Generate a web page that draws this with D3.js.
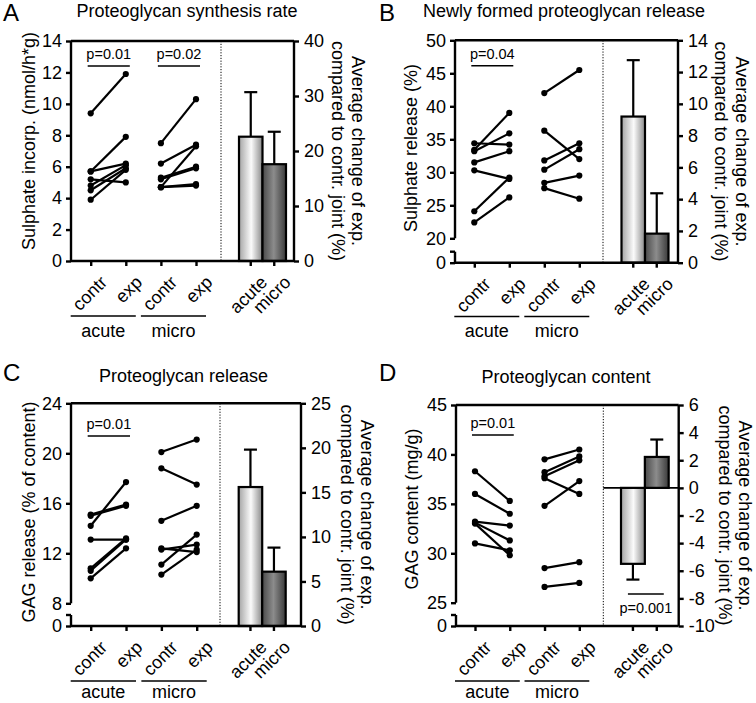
<!DOCTYPE html>
<html><head><meta charset="utf-8">
<script src="https://cdn.jsdelivr.net/npm/d3@7"></script>
<style>
body{margin:0;background:#fff}
text{font-family:"Liberation Sans",Arial,Helvetica,sans-serif;fill:#000}
</style></head>
<body><svg id="chart" width="756" height="703"></svg>
<script>
// ---------- shared categories / labels ----------
const pairCats = ["acute-contr","acute-exp","micro-contr","micro-exp"];
const pairTickLabels = ["contr","exp","contr","exp"];
const barCats = ["acute","micro"];
const groupLabels = ["acute","micro"];
const rightAxisLabel = ["Average change of exp.","compared to contr. joint (%)"];

// ---------- Panel A ----------
const aTitle = "Proteoglycan synthesis rate";
const aLeftLabel = "Sulphate incorp. (nmol/h*g)";
const aLeftTicks = [0,2,4,6,8,10,12,14];
const aRightTicks = [0,10,20,30,40];
const aAcuteContr = [9.4,5.7,5.7,5.2,4.8,4.5,3.9];
const aAcuteExp   = [11.9,7.9,6.2,5.0,6.1,5.9,5.8];
const aMicroContr = [7.5,6.2,5.3,5.2,4.7,4.7,4.7];
const aMicroExp   = [10.3,7.4,6.0,5.9,7.3,4.9,4.8];
const aBarMean = [22.6,17.6];
const aBarSem  = [8.1,5.9];
const aPLabels = ["p=0.01","p=0.02"];

// ---------- Panel B ----------
const bTitle = "Newly formed proteoglycan release";
const bLeftLabel = "Sulphate release (%)";
const bLeftTicks = [0,20,25,30,35,40,45,50];
const bRightTicks = [0,2,4,6,8,10,12,14];
const bAcuteContr = [34.4,33.4,33.2,31.5,30.3,24.1,22.4];
const bAcuteExp   = [34.2,39.0,35.9,33.2,29.0,29.2,26.2];
const bMicroContr = [42.0,36.3,31.8,30.4,28.4,27.6];
const bMicroExp   = [45.5,32.0,34.4,33.5,29.5,26.0];
const bBarMean = [9.2,1.83];
const bBarSem  = [3.55,2.54];
const bPLabels = ["p=0.04"];

// ---------- Panel C ----------
const cTitle = "Proteoglycan release";
const cLeftLabel = "GAG release (% of content)";
const cLeftTicks = [0,8,12,16,20,24];
const cRightTicks = [0,5,10,15,20,25];
const cAcuteContr = [15.1,15.0,14.2,13.1,10.8,10.6,10.0];
const cAcuteExp   = [15.9,15.8,17.7,13.1,13.2,13.1,12.4];
const cMicroContr = [20.1,18.8,14.6,12.4,12.3,11.1,10.3];
const cMicroExp   = [21.1,17.5,15.8,12.1,12.7,13.5,12.3];
const cBarMean = [15.6,6.1];
const cBarSem  = [4.2,2.7];
const cPLabels = ["p=0.01"];

// ---------- Panel D ----------
const dTitle = "Proteoglycan content";
const dLeftLabel = "GAG content (mg/g)";
const dLeftTicks = [0,25,30,35,40,45];
const dRightTicks = [-10,-8,-6,-4,-2,0,2,4,6];
const dAcuteContr = [38.3,36.0,33.2,33.1,33.0,31.0];
const dAcuteExp   = [35.3,34.0,32.8,31.3,29.8,30.3];
const dMicroContr = [39.5,38.2,37.8,37.6,34.8,28.5,26.6];
const dMicroExp   = [40.5,39.8,39.4,36.0,37.3,29.1,27.0];
const dBarMean = [-5.5,2.24];
const dBarSem  = [1.14,1.26];
const dPLabels = ["p=0.01"];
const dBarPLabel = "p=0.001";

// ---------- layout (positions only) ----------
const panels = [
 {letter:"A", title:aTitle, leftLabel:aLeftLabel, leftTicks:aLeftTicks, rightTicks:aRightTicks,
  acute:[aAcuteContr,aAcuteExp], micro:[aMicroContr,aMicroExp], mean:aBarMean, sem:aBarSem, pl:aPLabels,
  left:71, right:294, top:41, bottom:261, dotted:221, pts:[90.7,196], bars:[239,286],
  leftDomain:[0,14], leftRange:null, rightDomain:[0,40],
  titleX:187, titleY:17, letterX:3, letterY:21, llX:35, llY:141, rlX:[352,332], pY:66, underY:316, groupY:337},
 {letter:"B", title:bTitle, leftLabel:bLeftLabel, leftTicks:bLeftTicks, rightTicks:bRightTicks,
  acute:[bAcuteContr,bAcuteExp], micro:[bMicroContr,bMicroExp], mean:bBarMean, sem:bBarSem, pl:bPLabels,
  left:455, right:678, top:40.3, bottom:262.7, dotted:603, pts:[474.3,579.3], bars:[621.5,668.5],
  leftDomain:[0,20,50], leftRange:[262.7,238.3,40.3], rightDomain:[0,14],
  titleX:564, titleY:17, letterX:379, letterY:21, llX:417, llY:148, rlX:[736,715], pY:65.7, underY:316.5, groupY:337},
 {letter:"C", title:cTitle, leftLabel:cLeftLabel, leftTicks:cLeftTicks, rightTicks:cRightTicks,
  acute:[cAcuteContr,cAcuteExp], micro:[cMicroContr,cMicroExp], mean:cBarMean, sem:cBarSem, pl:cPLabels,
  left:71, right:301, top:403.3, bottom:626, dotted:220, pts:[90.7,196.7], bars:[238.7,285.7],
  leftDomain:[0,8,24], leftRange:[626,603.3,403.3], rightDomain:[0,25],
  titleX:183.5, titleY:382, letterX:3, letterY:381, llX:35, llY:512, rlX:[361,341], pY:436, underY:681, groupY:698},
 {letter:"D", title:dTitle, leftLabel:dLeftLabel, leftTicks:dLeftTicks, rightTicks:dRightTicks,
  acute:[dAcuteContr,dAcuteExp], micro:[dMicroContr,dMicroExp], mean:dBarMean, sem:dBarSem, pl:dPLabels,
  left:456, right:678.7, top:405, bottom:626, dotted:603.3, pts:[475,579.3], bars:[621,668.7],
  leftDomain:[0,25,45], leftRange:[626,602.7,405], rightDomain:[-10,6],
  titleX:566, titleY:383, letterX:379, letterY:381, llX:418, llY:509, rlX:[739,719], pY:435, underY:681, groupY:698,
  barP:dBarPLabel}
];

const svg = d3.select("#chart");
const defs = svg.append("defs");
const g1 = defs.append("linearGradient").attr("id","gAcute").attr("x1","0%").attr("x2","100%");
g1.append("stop").attr("offset","0%").attr("stop-color","#a4a4a4");
g1.append("stop").attr("offset","52%").attr("stop-color","#fbfbfb");
g1.append("stop").attr("offset","100%").attr("stop-color","#8a8a8a");
const g2 = defs.append("linearGradient").attr("id","gMicro").attr("x1","0%").attr("x2","100%");
g2.append("stop").attr("offset","0%").attr("stop-color","#4a4a4a");
g2.append("stop").attr("offset","48%").attr("stop-color","#8c8c8c");
g2.append("stop").attr("offset","100%").attr("stop-color","#3a3a3a");
const fills = ["url(#gAcute)","url(#gMicro)"];

const AX = 2.4;   // axis stroke width
const FS = 18;

panels.forEach(p => {
  const g = svg.append("g");
  const yL = d3.scaleLinear().domain(p.leftDomain).range(p.leftRange || [p.bottom, p.top]);
  const yR = d3.scaleLinear().domain(p.rightDomain).range([p.bottom, p.top]);
  const xP = d3.scalePoint().domain(pairCats).range(p.pts);
  const xB = d3.scaleBand().domain(barCats).range(p.bars).padding(0);

  g.append("text").attr("x",p.letterX).attr("y",p.letterY).attr("font-size",24).text(p.letter);
  g.append("text").attr("x",p.titleX).attr("y",p.titleY).attr("font-size",FS).attr("text-anchor","middle").text(p.title);

  g.append("line").attr("x1",p.dotted).attr("x2",p.dotted).attr("y1",p.top).attr("y2",p.bottom)
    .attr("stroke","#000").attr("stroke-width",1).attr("stroke-dasharray","1.2,1.6");

  if (p.rightDomain[0] < 0) {
    g.append("line").attr("x1",p.dotted).attr("x2",p.right).attr("y1",yR(0)).attr("y2",yR(0))
      .attr("stroke","#000").attr("stroke-width",1.6);
  }

  barCats.forEach((c,i) => {
    const m = p.mean[i], s = p.sem[i];
    const y0 = yR(Math.max(0,m)), y1 = yR(Math.min(0,m));
    const cx = xB(c) + xB.bandwidth()/2;
    const ye = yR(m + (m>=0 ? s : -s));
    g.append("line").attr("x1",cx).attr("x2",cx).attr("y1",yR(m)).attr("y2",ye).attr("stroke","#000").attr("stroke-width",2.2);
    g.append("line").attr("x1",cx-6.5).attr("x2",cx+6.5).attr("y1",ye).attr("y2",ye).attr("stroke","#000").attr("stroke-width",2.2);
    g.append("rect").attr("x",xB(c)).attr("y",y0).attr("width",xB.bandwidth()).attr("height",y1-y0)
      .attr("fill",fills[i]).attr("stroke","#000").attr("stroke-width",2.2);
  });

  [["acute",p.acute],["micro",p.micro]].forEach(([grp,[cs,es]]) => {
    const xc = xP(grp+"-contr"), xe = xP(grp+"-exp");
    cs.forEach((v,i) => {
      g.append("line").attr("x1",xc).attr("x2",xe).attr("y1",yL(v)).attr("y2",yL(es[i]))
        .attr("stroke","#000").attr("stroke-width",2.2);
    });
    cs.forEach(v => g.append("circle").attr("cx",xc).attr("cy",yL(v)).attr("r",3.1).attr("fill","#000"));
    es.forEach(v => g.append("circle").attr("cx",xe).attr("cy",yL(v)).attr("r",3.1).attr("fill","#000"));
  });

  p.pl.forEach((t,i) => {
    const grp = groupLabels[i];
    const xa = xP(grp+"-contr")-3, xb = xP(grp+"-exp")+4;
    g.append("line").attr("x1",xa).attr("x2",xb).attr("y1",p.pY).attr("y2",p.pY).attr("stroke","#000").attr("stroke-width",1.6);
    g.append("text").attr("x",(xa+xb)/2).attr("y",p.pY-7).attr("font-size",14.5).attr("text-anchor","middle").text(t);
  });
  if (p.barP) {
    const xa = xB("acute")+xB.bandwidth()/2-5, xb = xB("micro")+xB.bandwidth()/2+7;
    g.append("line").attr("x1",xa).attr("x2",xb).attr("y1",p.bottom-32).attr("y2",p.bottom-32).attr("stroke","#000").attr("stroke-width",1.6);
    g.append("text").attr("x",(xa+xb)/2).attr("y",p.bottom-13).attr("font-size",14.5).attr("text-anchor","middle").text(p.barP);
  }

  g.append("line").attr("x1",p.left).attr("x2",p.right).attr("y1",p.top).attr("y2",p.top).attr("stroke","#000").attr("stroke-width",AX);
  g.append("line").attr("x1",p.left).attr("x2",p.right).attr("y1",p.bottom).attr("y2",p.bottom).attr("stroke","#000").attr("stroke-width",AX);

  const la = g.append("g").attr("transform",`translate(${p.left},0)`)
    .call(d3.axisLeft(yL).tickValues(p.leftTicks).tickSize(5).tickPadding(4).tickFormat(d=>String(d)));
  la.select(".domain").remove();
  la.selectAll("line").attr("stroke-width",AX);
  la.selectAll("text").attr("font-size",FS).attr("font-family",null);
  if (p.leftRange) {
    const brk = p.leftDomain[1];
    g.append("line").attr("x1",p.left).attr("x2",p.left).attr("y1",p.top).attr("y2",yL(brk)).attr("stroke","#000").attr("stroke-width",AX);
    const yb = p.bottom - 11;
    g.append("line").attr("x1",p.left).attr("x2",p.left).attr("y1",yb).attr("y2",p.bottom).attr("stroke","#000").attr("stroke-width",AX);
    g.append("line").attr("x1",p.left-5).attr("x2",p.left).attr("y1",yb).attr("y2",yb).attr("stroke","#000").attr("stroke-width",AX);
  } else {
    g.append("line").attr("x1",p.left).attr("x2",p.left).attr("y1",p.top).attr("y2",p.bottom).attr("stroke","#000").attr("stroke-width",AX);
  }

  const ra = g.append("g").attr("transform",`translate(${p.right},0)`)
    .call(d3.axisRight(yR).tickValues(p.rightTicks).tickSize(5).tickPadding(5).tickFormat(d=>String(d)));
  ra.select(".domain").remove();
  ra.selectAll("line").attr("stroke-width",AX);
  ra.selectAll("text").attr("font-size",FS).attr("font-family",null);
  g.append("line").attr("x1",p.right).attr("x2",p.right).attr("y1",p.top).attr("y2",p.bottom).attr("stroke","#000").attr("stroke-width",AX);

  const bp = g.append("g").attr("transform",`translate(0,${p.bottom})`)
    .call(d3.axisBottom(xP).tickSize(5).tickFormat(""));
  bp.select(".domain").remove();
  bp.selectAll("line").attr("stroke-width",AX);
  const bb = g.append("g").attr("transform",`translate(0,${p.bottom})`)
    .call(d3.axisBottom(xB).tickSize(5).tickFormat(""));
  bb.select(".domain").remove();
  bb.selectAll("line").attr("stroke-width",AX);

  pairCats.forEach((c,i) => {
    g.append("text").attr("transform",`translate(${xP(c)+13},${p.bottom+18}) rotate(-45)`)
      .attr("text-anchor","end").attr("dy","0.35em").attr("font-size",FS).text(pairTickLabels[i]);
  });
  barCats.forEach(c => {
    g.append("text").attr("transform",`translate(${xB(c)+xB.bandwidth()/2+13},${p.bottom+18}) rotate(-45)`)
      .attr("text-anchor","end").attr("dy","0.35em").attr("font-size",FS).text(c);
  });

  groupLabels.forEach(grp => {
    const xa = xP(grp+"-contr")-20, xb = xP(grp+"-exp")+10;
    g.append("line").attr("x1",xa).attr("x2",xb).attr("y1",p.underY).attr("y2",p.underY).attr("stroke","#000").attr("stroke-width",1.4);
    g.append("text").attr("x",(xa+xb)/2).attr("y",p.groupY).attr("font-size",FS).attr("text-anchor","middle").text(grp);
  });

  g.append("text").attr("transform",`translate(${p.llX},${p.llY}) rotate(-90)`).attr("text-anchor","middle")
    .attr("font-size",FS).text(p.leftLabel);
  const rc = (p.top+p.bottom)/2;
  rightAxisLabel.forEach((t,i) => {
    g.append("text").attr("transform",`translate(${p.rlX[i]},${rc}) rotate(90)`).attr("text-anchor","middle")
      .attr("font-size",FS).text(t);
  });
});
</script>
</body></html>
